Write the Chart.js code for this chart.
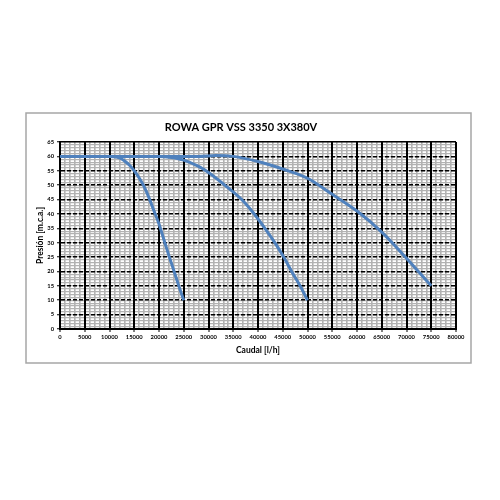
<!DOCTYPE html>
<html>
<head>
<meta charset="utf-8">
<script src="https://cdn.jsdelivr.net/npm/chart.js@4/dist/chart.umd.min.js"></script>
<style>
  html, body { margin: 0; padding: 0; background: #ffffff; }
  #wrap { position: absolute; left: 0; top: 0; width: 500px; height: 500px; }
</style>
</head>
<body>
<div id="wrap"><canvas id="c" width="500" height="500"></canvas></div>
<script>
const chartTitle = 'ROWA GPR VSS 3350 3X380V';
const xTitle = 'Caudal [l/h]';
const yTitle = 'Presión [m.c.a.]';

const curve1X = [0, 10000, 11000, 12000, 13000, 14000, 15000, 16000, 17000, 18000, 19000, 20000, 21000, 22000, 23000, 24000, 25000];
const curve1Y = [60, 60, 59.9, 59.5, 58.5, 57, 55, 52.5, 49.5, 45.5, 41, 36.5, 31, 25.5, 20.3, 15, 10];

const curve2X = [0, 20000, 22500, 25000, 28000, 30000, 33300, 36700, 39000, 41400, 43400, 45200, 46800, 48500, 50000];
const curve2Y = [60, 60, 59.6, 58.7, 56.5, 54.4, 50, 45, 40.5, 35, 30, 25, 20, 15, 10];

const curve3X = [0, 28000, 31500, 35000, 40000, 45000, 50000, 55000, 60000, 65000, 70000, 72500, 75000];
const curve3Y = [60, 60, 60.35, 60, 58.2, 55.6, 52.4, 46.8, 41, 33.7, 24.6, 19.8, 15];

const xMin = 0, xMax = 80000, xMajor = 5000, xMinor = 1000;
const yMin = 0, yMax = 65, yMajor = 5, yMinor = 1;

function pts(xs, ys) { return xs.map((x, i) => ({ x: x, y: ys[i] })); }

const lineColor = '#4f81bd';
function ds(xs, ys) {
  return {
    data: pts(xs, ys),
    borderColor: lineColor,
    borderWidth: 3,
    pointRadius: 0,
    fill: false,
    cubicInterpolationMode: 'monotone',
    tension: 0.4
  };
}

const boxPlugin = {
  id: 'box',
  beforeDraw(chart) {
    const c = chart.ctx;
    c.save();
    c.fillStyle = '#ffffff';
    c.fillRect(0, 0, chart.width, chart.height);
    c.strokeStyle = '#a6a6a6';
    c.lineWidth = 1.5;
    c.strokeRect(26, 113, 445, 250);
    c.restore();
  }
};

const tickFont = { family: 'Lato', size: 5.8, weight: 'bold' };

new Chart(document.getElementById('c'), {
  type: 'line',
  data: { datasets: [ds(curve1X, curve1Y), ds(curve2X, curve2Y), ds(curve3X, curve3Y)] },
  options: {
    responsive: false,
    animation: false,
    events: [],
    layout: { padding: { left: 26, top: 113, right: 44, bottom: 137 } },
    plugins: {
      legend: { display: false },
      tooltip: { enabled: false },
      title: {
        display: true,
        text: chartTitle,
        color: '#000',
        font: { family: 'Lato', size: 11, weight: 'bold' },
        padding: { top: 7.4, bottom: 8.4 }
      }
    },
    scales: {
      xm: {
        type: 'linear', position: 'bottom', min: xMin, max: xMax,
        ticks: { display: false, stepSize: xMinor, autoSkip: false, maxTicksLimit: 1000 },
        grid: { color: '#b2b2b2', lineWidth: 1.6, drawTicks: false, z: -2 },
        border: { display: false },
        afterFit(s) { s.height = 0; s.paddingLeft = 0; s.paddingRight = 0; }
      },
      ym: {
        type: 'linear', position: 'left', min: yMin, max: yMax,
        ticks: { display: false, stepSize: yMinor, autoSkip: false, maxTicksLimit: 1000 },
        grid: { color: '#b2b2b2', lineWidth: 1.2, drawTicks: false, z: -2 },
        border: { display: false },
        afterFit(s) { s.width = 0; s.paddingTop = 0; s.paddingBottom = 0; }
      },
      x: {
        type: 'linear', position: 'bottom', min: xMin, max: xMax,
        ticks: {
          stepSize: xMajor, autoSkip: false, maxRotation: 0, color: '#000', font: tickFont, padding: 2,
          callback: (v) => String(v)
        },
        grid: { color: '#000', lineWidth: 2, tickLength: 3, tickColor: '#000', tickWidth: 1, z: -1 },
        border: { display: true, color: '#000', width: 2 },
        title: { display: true, text: xTitle, color: '#000', font: { family: 'Lato', size: 8.5, weight: 'bold' }, padding: { top: 0, bottom: 7.4 } },
        afterFit(s) { s.height = 34; s.paddingLeft = 0; s.paddingRight = 0; }
      },
      y: {
        type: 'linear', position: 'left', min: yMin, max: yMax,
        ticks: {
          stepSize: yMajor, autoSkip: false, color: '#000', font: tickFont, padding: 3,
          callback: (v) => String(v)
        },
        grid: { color: '#000', lineWidth: 1.5, tickLength: 3, tickColor: '#000', tickWidth: 1, z: -1 },
        border: {
          display: true, color: '#000', width: 2,
          dash: (ctx) => (ctx.type === 'tick' && ctx.tick && ctx.tick.value > yMin && ctx.tick.value < yMax) ? [4, 2] : []
        },
        title: { display: true, text: yTitle, color: '#000', font: { family: 'Lato', size: 8.5, weight: 'bold' }, padding: { top: 9, bottom: 0 } },
        afterFit(s) { s.width = 34; s.paddingTop = 0; s.paddingBottom = 0; }
      }
    }
  },
  plugins: [boxPlugin]
});
</script>
</body>
</html>
